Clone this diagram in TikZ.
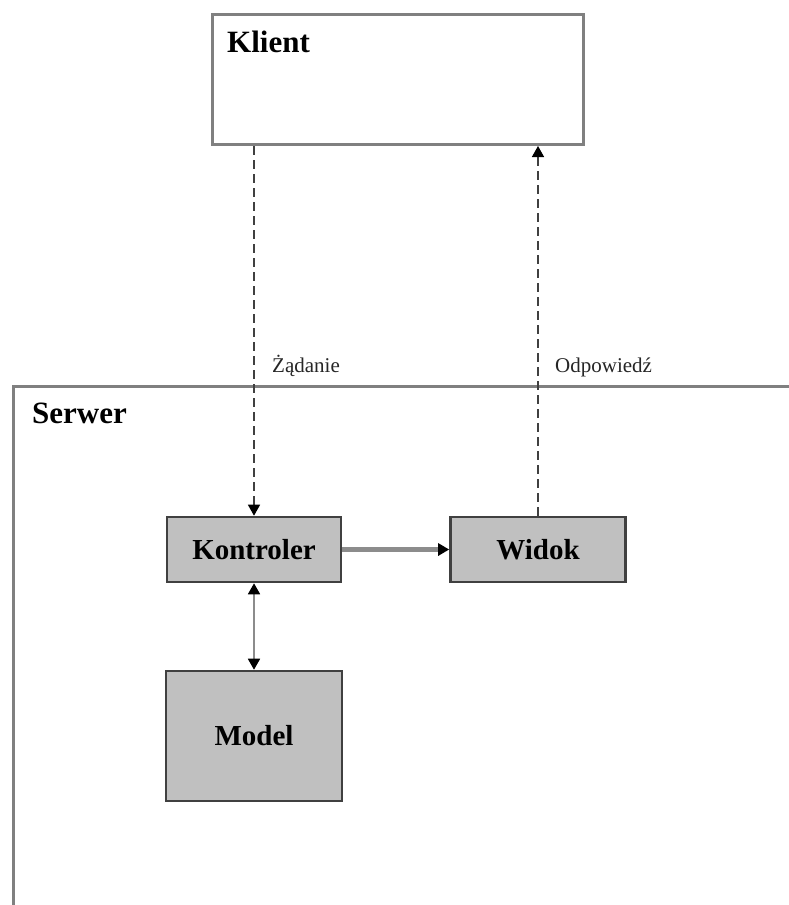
\documentclass[tikz,border=0pt]{standalone}
\usepackage{fontspec}
\setmainfont{Liberation Serif}
\usetikzlibrary{arrows.meta}
\definecolor{framegray}{HTML}{808080}
\definecolor{boxfill}{HTML}{C0C0C0}
\definecolor{boxedge}{HTML}{404040}
\definecolor{linkgray}{HTML}{8C8C8C}
\tikzset{
  frame/.style={draw=framegray, line width=3pt},
  unit/.style={draw=boxedge, fill=boxfill, line width=2.6pt, inner sep=0pt,
    font=\bfseries\fontsize{29}{30}\selectfont},
  titletext/.style={anchor=base west, inner sep=0pt, font=\bfseries\fontsize{31}{32}\selectfont},
  msgtext/.style={anchor=base west, inner sep=0pt, font=\fontsize{21}{22}\selectfont, text=black!85},
  headtip/.tip={Triangle[length=11pt, width=12pt, color=black]},
  request/.style={draw=boxedge, line width=1.4pt, dash pattern=on 9pt off 5pt},
}
\begin{document}
\begin{tikzpicture}[x=1pt, y=-1pt]
  \useasboundingbox (0,0) rectangle (789,905);
  \clip (0,0) rectangle (789,905);
  \fill[white] (0,0) rectangle (789,905);

  % client box
  \node[frame, minimum width=371pt, minimum height=130pt, anchor=north west,
        inner sep=0pt] (klient) at (211,13) {};
  \node[titletext] (klientlbl) at (227,52) {Klient};

  % server frame, running past the right and bottom edges
  \node[frame, minimum width=800pt, minimum height=560pt, anchor=north west,
        inner sep=0pt] (serwer) at (12,385) {};
  \node[titletext] (serwerlbl) at (32,423) {Serwer};

  % MVC components
  \node[unit, minimum width=174pt, minimum height=65pt] (kontroler) at (254,549.5) {Kontroler};
  \node[unit, minimum width=175pt, minimum height=65pt] (widok) at (538,549.5) {Widok};
  \node[unit, minimum width=176pt, minimum height=130pt] (model) at (254,736) {Model};

  % request / response between client and server
  \coordinate (reqstart) at (klient.south -| kontroler.north);
  \coordinate (respend) at (klient.south -| widok.north);
  \draw[request, -{headtip}] (reqstart) -- (kontroler.north);
  \draw[request, -{headtip}] (widok.north) -- (respend);
  \node[msgtext] (zadanie) at (272,372) {Żądanie};
  \node[msgtext] (odpowiedz) at (555,372) {Odpowiedź};

  % internal links
  \draw[draw=linkgray, line width=4.5pt, -{headtip}] (kontroler.east) -- (widok.west);
  \draw[draw=linkgray, line width=1.8pt, {headtip}-{headtip}] (kontroler.south) -- (model.north);
\end{tikzpicture}
\end{document}
